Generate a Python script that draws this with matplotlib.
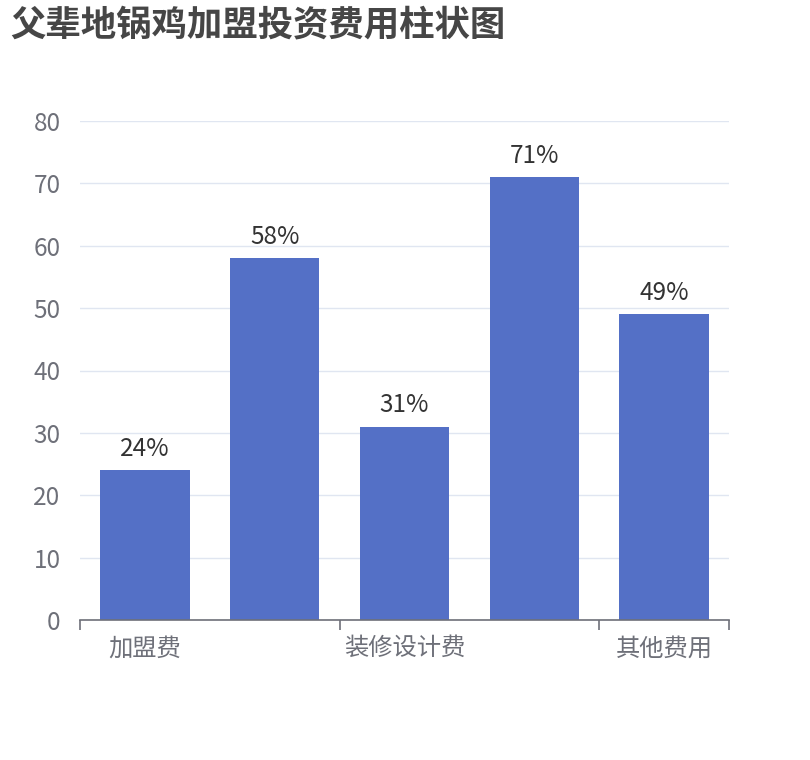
import numpy as np
import matplotlib
matplotlib.use('Agg')
import matplotlib.pyplot as plt

plt.rcParams['font.family'] = ['Noto Sans CJK SC', 'DejaVu Sans']

title = '父辈地锅鸡加盟投资费用柱状图'
categories = ['加盟费', '设备费', '装修设计费', '首批进货', '其他费用']
values = [24, 58, 31, 71, 49]
bar_labels = ['24%', '58%', '31%', '71%', '49%']
yticks = [0, 10, 20, 30, 40, 50, 60, 70, 80]

W, H = 810, 760
fig = plt.figure(figsize=(W/100, H/100), dpi=100)
ax = fig.add_axes([80/W, (H-620)/H, (729-80)/W, (620-121)/H])

x = np.arange(len(categories))
bars = ax.bar(x, values, width=0.69, color='#5470c6', zorder=3)
for b, lab in zip(bars, bar_labels):
    ax.annotate(lab, (b.get_x()+b.get_width()/2, b.get_height()),
                xytext=(0, 6), textcoords='offset points',
                ha='center', va='bottom', fontsize=17.5, color='#333333')

ax.set_xlim(-0.5, len(categories)-0.5)
ax.set_ylim(0, 80)
ax.set_yticks(yticks)
ax.yaxis.grid(True, color='#e0e6f1', linewidth=1, zorder=0)
ax.tick_params(axis='y', length=0, pad=14, labelsize=17.5, labelcolor='#6e7079')

# only every other category label shown, ticks on band boundaries
ax.set_xticks(x[::2])
ax.set_xticklabels(categories[::2])
ax.tick_params(axis='x', length=0, pad=11, labelsize=17.5, labelcolor='#6e7079')
ax.set_xticks([-0.5, 1.5, 3.5, 4.5], minor=True)
ax.tick_params(axis='x', which='minor', length=7, width=1.2, color='#6e7079', direction='out')

for s in ['top', 'right', 'left']:
    ax.spines[s].set_visible(False)
ax.spines['bottom'].set_color('#6e7079')
ax.spines['bottom'].set_linewidth(1.2)
ax.spines['bottom'].set_zorder(4)

fig.text(10/W, 1-25/H, title, fontsize=25.5, fontweight='bold', color='#464646',
         ha='left', va='center')

plt.savefig('out.png', dpi=100)
